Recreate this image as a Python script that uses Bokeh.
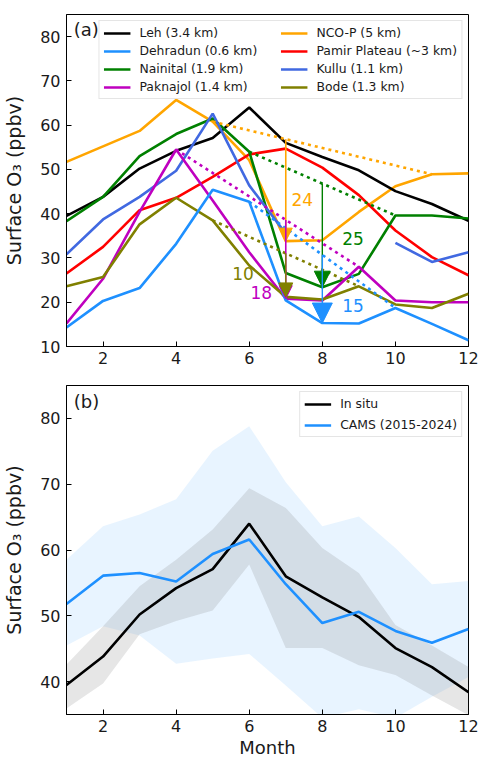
import numpy as np
from bokeh.plotting import figure
from bokeh.models import (Legend, LegendItem, Arrow, NormalHead, Label, Range1d,
                          FixedTicker)
from bokeh.layouts import column
from bokeh.embed import file_html
from bokeh.resources import INLINE

# ---------------- data ----------------
months = [1, 2, 3, 4, 5, 6, 7, 8, 9, 10, 11, 12]

leh = [39.5, 43.8, 50.2, 54.2, 57.1, 64.0, 56.0, 52.8, 49.8, 45.1, 42.2, 38.4]
dehradun = [14.3, 20.3, 23.2, 33.2, 45.4, 42.7, 20.4, 15.3, 15.2, 18.7, 15.1, 11.4]
nainital = [38.3, 43.8, 53.0, 58.0, 61.5, 54.0, 26.6, 23.4, 26.4, 39.6, 39.6, 38.9]
paknajol = [15.2, 25.3, 40.4, 54.5, 43.0, 31.3, 20.8, 20.4, 28.0, 20.4, 20.0, 20.0]
ncop = [51.7, 55.2, 58.7, 65.7, 60.8, 52.1, 33.8, 34.0, 40.4, 46.2, 48.9, 49.1]
pamir = [26.5, 32.5, 40.8, 43.6, 48.3, 53.4, 54.7, 50.4, 44.2, 36.2, 30.2, 26.1]
kullu = [30.8, 38.7, 43.8, 49.7, 62.6, 46.4, 35.5, np.nan, np.nan, 33.4, 29.1, 31.3]
bode = [23.6, 25.7, 37.6, 43.6, 38.5, 28.3, 21.2, 20.6, 23.6, 19.5, 18.7, 21.9]

# baseline (dotted) spans: [start month, end month]
ncop_span = [5, 11]
nainital_span = [6, 10]
paknajol_span = [4, 9]
dehradun_span = [6, 10]
bode_span = [5, 9]

# month of the monsoon drop arrows, and their labels
ncop_arrow_month = 7
paknajol_arrow_month = 7
bode_arrow_month = 7
nainital_arrow_month = 8
dehradun_arrow_month = 8
drop_labels = ["24", "25", "15", "18", "10"]

# panel (b)
insitu = leh
insitu_hi = [42.6, 48.4, 54.5, 58.5, 63.1, 69.4, 66.4, 60.3, 56.5, 48.6, 45.5, 42.2]
insitu_lo = [35.9, 39.7, 47.2, 49.2, 50.8, 57.8, 45.1, 45.1, 42.5, 41.0, 37.9, 34.9]
cams = [51.8, 56.1, 56.5, 55.2, 59.4, 61.6, 54.8, 48.9, 50.6, 47.7, 45.9, 48.0]
cams_hi = [58.5, 63.6, 65.4, 67.7, 75.1, 78.8, 70.3, 63.6, 65.1, 60.3, 54.8, 55.3]
cams_lo = [45.5, 48.4, 47.0, 42.7, 43.5, 44.2, 39.4, 34.5, 35.8, 34.5, 37.7, 40.7]

x_ticks = [2, 4, 6, 8, 10, 12]
y_ticks_a = [10, 20, 30, 40, 50, 60, 70, 80]
y_ticks_b = [40, 50, 60, 70, 80]

FONT = "DejaVu Sans"
LW = 2.6


def style(p, yticks):
    p.xaxis.ticker = FixedTicker(ticks=x_ticks)
    p.yaxis.ticker = FixedTicker(ticks=yticks)
    for ax in (p.xaxis[0], p.yaxis[0]):
        ax.major_tick_in = 5
        ax.major_tick_out = 0
        ax.minor_tick_in = 0
        ax.minor_tick_out = 0
        ax.major_label_text_font = FONT
        ax.major_label_text_font_size = "16px"
        ax.major_label_text_color = "#1a1a1a"
        ax.axis_label_text_font = FONT
        ax.axis_label_text_font_size = "18px"
        ax.axis_label_text_font_style = "normal"
        ax.axis_label_text_color = "#1a1a1a"
        ax.axis_line_color = "black"
        ax.major_tick_line_color = "black"
    p.yaxis.axis_label_text_font_size = "19px"
    p.xaxis.major_label_standoff = 5
    p.yaxis.major_label_standoff = 6
    p.yaxis.axis_label_standoff = 12
    p.xaxis.axis_label_standoff = 2
    p.grid.visible = False
    p.outline_line_color = "black"
    p.outline_line_alpha = 1
    p.outline_line_width = 1
    p.background_fill_color = "white"
    p.border_fill_color = "white"


# ---------------- panel (a) ----------------
pa = figure(width=480, height=372, output_backend="svg", toolbar_location=None,
            x_range=Range1d(1, 12), y_range=Range1d(10, 85),
            min_border_left=65, min_border_right=12, min_border_top=14,
            min_border_bottom=26)
style(pa, y_ticks_a)
pa.yaxis.axis_label = "Surface O\u2083 (ppbv)"

series = [
    ("Leh (3.4 km)", leh, "black"),
    ("Dehradun (0.6 km)", dehradun, "#1e90ff"),
    ("Nainital (1.9 km)", nainital, "#008000"),
    ("Paknajol (1.4 km)", paknajol, "#bf00bf"),
    ("NCO-P (5 km)", ncop, "#ffa500"),
    ("Pamir Plateau (~3 km)", pamir, "#ff0000"),
    ("Kullu (1.1 km)", kullu, "#4169e1"),
    ("Bode (1.3 km)", bode, "#808000"),
]
draw_order = [4, 0, 5, 2, 6, 3, 7, 1]
renderers = {}
for i in draw_order:
    name, vals, col = series[i]
    renderers[i] = pa.line(months, vals, line_color=col, line_width=LW)

# dotted baselines
dotted = [
    (ncop, ncop_span, "#ffa500"),
    (nainital, nainital_span, "#008000"),
    (paknajol, paknajol_span, "#bf00bf"),
    (dehradun, dehradun_span, "#1e90ff"),
    (bode, bode_span, "#808000"),
]
for vals, span, col in dotted:
    ys = [vals[span[0] - 1], vals[span[1] - 1]]
    pa.line(span, ys, line_color=col, line_width=LW, line_dash="3 4")


def add_arrow(vals, span, m, col, size, lw=1.4):
    ys = [vals[span[0] - 1], vals[span[1] - 1]]
    y0 = float(np.interp(m, span, ys))
    y1 = vals[m - 1]
    pa.add_layout(Arrow(end=NormalHead(size=size, fill_color=col, line_color=col,
                                       line_width=1),
                        x_start=m, y_start=y0, x_end=m, y_end=y1,
                        line_color=col, line_width=lw))


add_arrow(ncop, ncop_span, ncop_arrow_month, "#ffa500", 13, 1.6)
add_arrow(paknajol, paknajol_span, paknajol_arrow_month, "#bf00bf", 13, 1.6)
add_arrow(bode, bode_span, bode_arrow_month, "#808000", 14, 1.4)
add_arrow(nainital, nainital_span, nainital_arrow_month, "#008000", 16, 1.4)
add_arrow(dehradun, dehradun_span, dehradun_arrow_month, "#1e90ff", 20, 1.4)

label_specs = [
    (drop_labels[0], 7.45, 43.3, "#ffa500"),
    (drop_labels[1], 8.84, 34.4, "#008000"),
    (drop_labels[2], 8.84, 19.3, "#1e90ff"),
    (drop_labels[3], 6.33, 22.3, "#bf00bf"),
    (drop_labels[4], 5.83, 26.4, "#808000"),
]
for txt, lx, ly, col in label_specs:
    pa.add_layout(Label(x=lx, y=ly, text=txt, text_color=col, text_font=FONT,
                        text_font_size="17px", text_align="center",
                        text_baseline="middle"))

pa.add_layout(Label(x=1.2, y=83.9, text="(a)", text_font=FONT, text_font_size="18px",
                    text_color="#1a1a1a", text_baseline="top", text_align="left"))

legend_order = [0, 1, 2, 3, 4, 5, 6, 7]
leg_a = Legend(items=[LegendItem(label=series[i][0], renderers=[renderers[i]])
                      for i in legend_order],
               location="top_right", nrows=4, orientation="vertical")


def style_legend(leg, spacing):
    leg.label_text_font = FONT
    leg.label_text_font_size = "12.4px"
    leg.label_text_color = "#1a1a1a"
    leg.glyph_width = 27
    leg.glyph_height = 14
    leg.label_height = 14
    leg.label_standoff = 9
    leg.spacing = spacing
    leg.padding = 4
    leg.margin = 6
    leg.border_line_color = "#cccccc"
    leg.border_line_width = 1
    leg.background_fill_alpha = 0.85


style_legend(leg_a, 3)
leg_a.label_width = 138
pa.add_layout(leg_a)

# ---------------- panel (b) ----------------
pb = figure(width=480, height=388, output_backend="svg", toolbar_location=None,
            x_range=Range1d(1, 12), y_range=Range1d(35, 85),
            min_border_left=65, min_border_right=12, min_border_top=13,
            min_border_bottom=44)
style(pb, y_ticks_b)
pb.yaxis.axis_label = "Surface O\u2083 (ppbv)"
pb.xaxis.axis_label = "Month"

pb.varea(x=months, y1=cams_lo, y2=cams_hi, fill_color="#1e90ff", fill_alpha=0.1)
pb.varea(x=months, y1=insitu_lo, y2=insitu_hi, fill_color="#808080", fill_alpha=0.2)
r_ins = pb.line(months, insitu, line_color="black", line_width=LW)
r_cams = pb.line(months, cams, line_color="#1e90ff", line_width=LW)

pb.add_layout(Label(x=1.2, y=84.2, text="(b)", text_font=FONT, text_font_size="18px",
                    text_color="#1a1a1a", text_baseline="top", text_align="left"))

leg_b = Legend(items=[LegendItem(label="In situ", renderers=[r_ins]),
                      LegendItem(label="CAMS (2015-2024)", renderers=[r_cams])],
               location="top_right")
style_legend(leg_b, 6)
pb.add_layout(leg_b)

layout = column(pa, pb, spacing=0)
open("out.html", "w").write(file_html(layout, INLINE))
